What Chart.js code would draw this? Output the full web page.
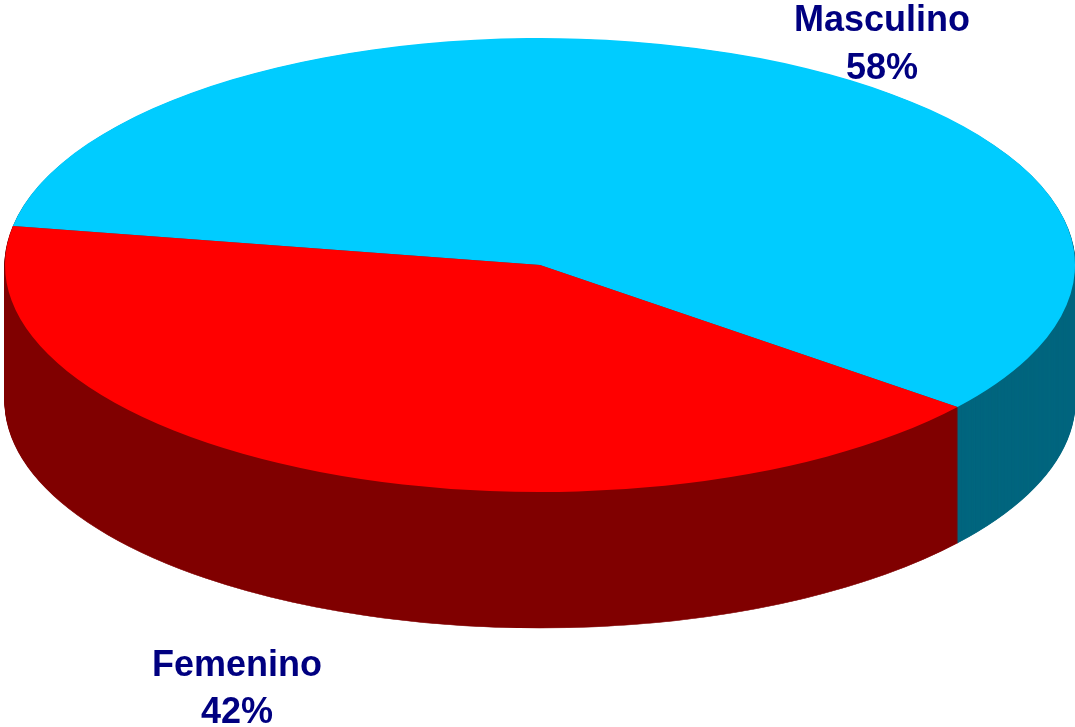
<!DOCTYPE html>
<html>
<head>
<meta charset="utf-8">
<script src="https://cdn.jsdelivr.net/npm/chart.js@4"></script>
<style>
  html, body { margin: 0; padding: 0; background: #fff; }
  #wrap { width: 1075px; height: 727px; }
</style>
</head>
<body>
<div id="wrap"><canvas id="pie" width="1075" height="727"></canvas></div>
<script>
// ================= DATA =================
const labels = ["Masculino", "Femenino"];
const values = [58, 42];
const topColors = ["#00CCFF", "#FF0000"];
const sideColors = ["#00667F", "#800000"];

// ================= 3D LOOK =================
// ellipse of the top face and the height of the wall, in screen pixels
const center = { x: 540, y: 265 };
const radiusX = 535;
const radiusY = 227;
const depth = 136;

const pie3d = {
  id: "pie3d",
  beforeDatasetsDraw(chart) {
    const ctx = chart.ctx;
    const arcs = chart.getDatasetMeta(0).data;
    const a0 = arcs[0];
    const R = a0.outerRadius;
    const sx = radiusX / R;
    const sy = radiusY / R;

    ctx.save();
    ctx.translate(center.x, center.y);
    ctx.scale(sx, sy);
    ctx.translate(-a0.x, -a0.y);

    // wall: stack of darker slices, deepest first
    ctx.lineWidth = 1.2 / sx;
    for (let d = depth; d > 0; d--) {
      const off = d / sy;
      arcs.forEach((a, i) => {
        ctx.beginPath();
        ctx.moveTo(a.x, a.y + off);
        ctx.arc(a.x, a.y + off, R, a.startAngle, a.endAngle);
        ctx.closePath();
        ctx.fillStyle = sideColors[i];
        ctx.strokeStyle = sideColors[i];
        ctx.fill();
        ctx.stroke();
      });
    }
    // transform stays on while Chart.js draws the top face
  },
  afterDatasetsDraw(chart) {
    const ctx = chart.ctx;
    ctx.restore();

    ctx.save();
    ctx.fillStyle = "#000080";
    ctx.font = "bold 36px 'Liberation Sans', Arial, sans-serif";
    ctx.textAlign = "center";
    ctx.textBaseline = "alphabetic";
    ctx.fillText(labels[0], 882, 31);
    ctx.fillText(values[0] + "%", 882, 79);
    ctx.fillText(labels[1], 237, 676);
    ctx.fillText(values[1] + "%", 237, 723);
    ctx.restore();
  }
};

new Chart(document.getElementById("pie"), {
  type: "pie",
  data: {
    labels: labels,
    datasets: [{
      data: values,
      backgroundColor: topColors,
      borderWidth: 0,
      clip: false
    }]
  },
  options: {
    responsive: false,
    animation: false,
    rotation: -80.1,
    layout: { padding: 0 },
    plugins: {
      legend: { display: false },
      tooltip: { enabled: false }
    }
  },
  plugins: [pie3d]
});
</script>
</body>
</html>
